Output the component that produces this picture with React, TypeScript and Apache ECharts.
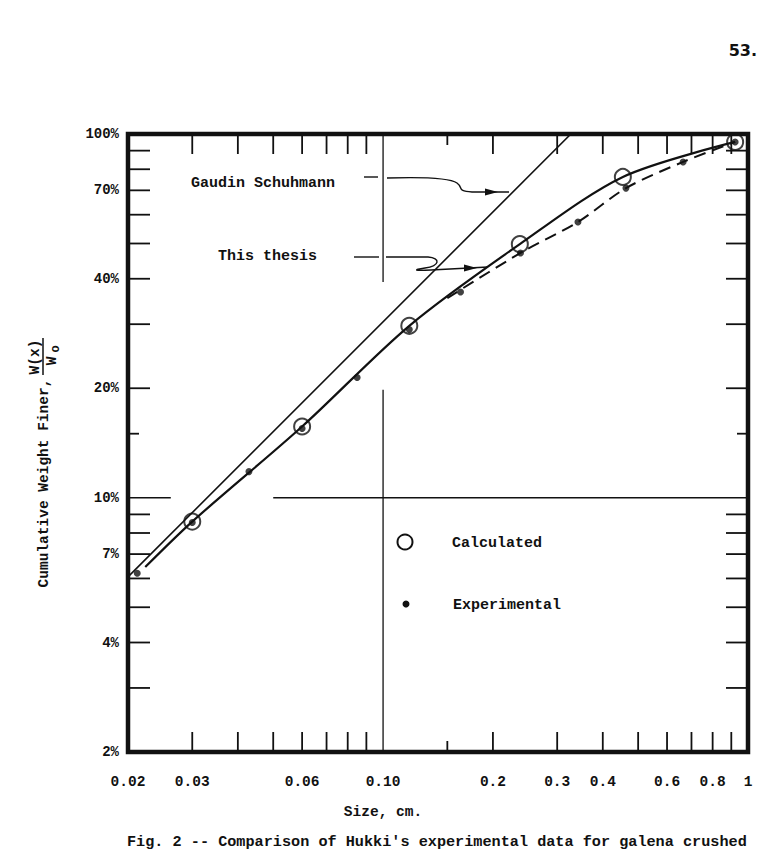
import React, { useEffect, useRef } from "react";
import * as echarts from "echarts";

// Axis extents (log-log paper)
const SIZE_MIN = 0.02;
const SIZE_MAX = 1;
const FINER_MIN = 2;
const FINER_MAX = 100;

// Tick marks and tick labels
const sizeTicks = [0.03, 0.04, 0.05, 0.06, 0.07, 0.08, 0.09, 0.2, 0.3, 0.4, 0.5, 0.6, 0.7, 0.8, 0.9];
const sizeShortTicks = [0.15];
const sizeLabels = ["0.02", "0.03", "0.06", "0.10", "0.2", "0.3", "0.4", "0.6", "0.8", "1"];
const finerTicks = [90, 80, 70, 60, 50, 40, 30, 20, 9, 8, 7, 6, 5, 4, 3];
const finerShortTicks = [15];
const finerLabels = ["100%", "70%", "40%", "20%", "10%", "7%", "4%", "2%"];

// Gaudin-Schuhmann straight line
const gaudinSize = [0.02, 0.327];
const gaudinFiner = [6.06, 100];

// "This thesis" fitted curve
const thesisSize = [0.0223, 0.03, 0.06, 0.118, 0.237, 0.454, 0.922];
const thesisFiner = [6.45, 8.6, 15.7, 29.7, 49.8, 76.2, 95.1];

// Calculated points
const calcSize = [0.03, 0.06, 0.118, 0.237, 0.454, 0.922];
const calcFiner = [8.6, 15.7, 29.7, 49.8, 76.2, 95.1];

// Experimental points (Hukki)
const expSize = [0.0212, 0.03, 0.0429, 0.06, 0.0849, 0.118, 0.163, 0.238, 0.342, 0.463, 0.664, 0.922];
const expFiner = [6.2, 8.55, 11.8, 15.5, 21.4, 29.0, 36.8, 47.1, 57.3, 71.0, 83.8, 95.1];

// Dashed experimental curve where it leaves the fitted curve
const expCurveSize = [0.15, 0.238, 0.342, 0.463, 0.664, 0.922];
const expCurveFiner = [35.4, 47.1, 57.3, 71.0, 83.8, 95.1];

// Broken reference lines at 0.10 cm and 10 %
const vRefUpperSize = [0.1, 0.1];
const vRefUpperFiner = [100, 39.2];
const vRefLowerSize = [0.1, 0.1];
const vRefLowerFiner = [19.8, 2];
const hRefLeftSize = [0.02, 0.0262];
const hRefRightSize = [0.05, 1];
const hRefFiner = [10, 10];

const FONT = '"Liberation Mono", "DejaVu Sans Mono", monospace';
const INK = "#111";

const pairs = (xs: number[], ys: number[]) => xs.map((x, i) => [x, ys[i]]);

const plainLine = (data: number[][], width: number, extra: any = {}) => ({
  type: "line",
  data,
  symbol: "none",
  silent: true,
  lineStyle: { color: INK, width, ...extra },
  z: 3,
});

echarts.graphic.registerShape(
  "gaudinLeader",
  echarts.graphic.extendPath("M387,178 C420,177 450,178 457,183 C464,188 456,191 472,192 L509,192", {})
);
echarts.graphic.registerShape(
  "thesisLeader",
  echarts.graphic.extendPath("M386,257 L428,257 C441,258 440,266 425,268 C412,270 414,271 431,270 L488,267", {})
);

export default function App() {
  const ref = useRef<HTMLDivElement>(null);

  useEffect(() => {
    document.body.style.margin = "0";
    if (!ref.current) return;
    const chart = echarts.init(ref.current, null, { renderer: "svg" });

    const tickStyle = { stroke: INK, lineWidth: 1.8 };

    const option: any = {
      animation: false,
      backgroundColor: "#fff",
      grid: {
        left: 128,
        right: 16,
        top: 134,
        bottom: 99,
        show: true,
        borderColor: INK,
        borderWidth: 4.5,
        backgroundColor: "transparent",
      },
      xAxis: {
        type: "log",
        logBase: 10,
        min: SIZE_MIN,
        max: SIZE_MAX,
        axisLine: { show: false },
        axisTick: { show: false },
        axisLabel: { show: false },
        splitLine: { show: false },
      },
      yAxis: {
        type: "log",
        logBase: 10,
        min: FINER_MIN,
        max: FINER_MAX,
        axisLine: { show: false },
        axisTick: { show: false },
        axisLabel: { show: false },
        splitLine: { show: false },
      },
      series: [
        // reference lines
        plainLine(pairs(vRefUpperSize, vRefUpperFiner), 1.3),
        plainLine(pairs(vRefLowerSize, vRefLowerFiner), 1.3),
        plainLine(pairs(hRefLeftSize, hRefFiner), 1.3),
        plainLine(pairs(hRefRightSize, hRefFiner), 1.3),
        // Gaudin-Schuhmann
        { ...plainLine(pairs(gaudinSize, gaudinFiner), 1.6), name: "Gaudin Schuhmann" },
        // This thesis
        {
          ...plainLine(pairs(thesisSize, thesisFiner), 2.2),
          name: "This thesis",
          smooth: 0.3,
        },
        // experimental dashed curve
        {
          ...plainLine(pairs(expCurveSize, expCurveFiner), 2, { type: [12, 7] }),
          name: "Experimental curve",
          smooth: 0.3,
        },
        {
          type: "scatter",
          name: "Calculated",
          data: pairs(calcSize, calcFiner),
          symbol: "circle",
          symbolSize: 16,
          itemStyle: { color: "rgba(0,0,0,0)", borderColor: INK, borderWidth: 2 },
          z: 5,
          silent: true,
        },
        {
          type: "scatter",
          name: "Experimental",
          data: pairs(expSize, expFiner),
          symbol: "circle",
          symbolSize: 7,
          itemStyle: { color: INK },
          z: 6,
          silent: true,
        },
        // size-axis ticks, bottom and top
        {
          type: "custom",
          silent: true,
          z: 4,
          data: [
            ...sizeTicks.map((v) => [v, FINER_MIN, 20]),
            ...sizeShortTicks.map((v) => [v, FINER_MIN, 11]),
          ],
          renderItem: (params: any, api: any) => {
            const v = api.value(0);
            const len = api.value(2);
            const b = api.coord([v, FINER_MIN]);
            const t = api.coord([v, FINER_MAX]);
            return {
              type: "group",
              children: [
                { type: "line", shape: { x1: b[0], y1: b[1], x2: b[0], y2: b[1] - len }, style: tickStyle },
                { type: "line", shape: { x1: t[0], y1: t[1], x2: t[0], y2: t[1] + len }, style: tickStyle },
              ],
            };
          },
        },
        // finer-axis ticks, left and right
        {
          type: "custom",
          silent: true,
          z: 4,
          data: [
            ...finerTicks.map((v) => [SIZE_MIN, v, 22]),
            ...finerShortTicks.map((v) => [SIZE_MIN, v, 11]),
          ],
          renderItem: (params: any, api: any) => {
            const v = api.value(1);
            const len = api.value(2);
            const l = api.coord([SIZE_MIN, v]);
            const r = api.coord([SIZE_MAX, v]);
            return {
              type: "group",
              children: [
                { type: "line", shape: { x1: l[0], y1: l[1], x2: l[0] + len, y2: l[1] }, style: tickStyle },
                { type: "line", shape: { x1: r[0], y1: r[1], x2: r[0] - len, y2: r[1] }, style: tickStyle },
              ],
            };
          },
        },
        // size-axis labels
        {
          type: "custom",
          silent: true,
          data: sizeLabels.map((s) => [parseFloat(s), FINER_MIN]),
          renderItem: (params: any, api: any) => {
            const p = api.coord([api.value(0), api.value(1)]);
            return {
              type: "text",
              x: p[0],
              y: p[1] + 30,
              style: {
                text: sizeLabels[params.dataIndex],
                fill: INK,
                font: `bold 14.5px ${FONT}`,
                align: "center",
                verticalAlign: "middle",
              },
            };
          },
        },
        // finer-axis labels
        {
          type: "custom",
          silent: true,
          data: finerLabels.map((s) => [SIZE_MIN, parseFloat(s)]),
          renderItem: (params: any, api: any) => {
            const p = api.coord([api.value(0), api.value(1)]);
            return {
              type: "text",
              x: p[0] - 9,
              y: p[1],
              style: {
                text: finerLabels[params.dataIndex],
                fill: INK,
                font: `bold 14px ${FONT}`,
                align: "right",
                verticalAlign: "middle",
              },
            };
          },
        },
      ],
      graphic: [
        // page number
        {
          type: "text",
          x: 757,
          y: 50,
          style: { text: "53.", fill: INK, font: 'bold 16px "DejaVu Sans", sans-serif', align: "right", verticalAlign: "middle" },
        },
        // curve annotations
        {
          type: "text",
          x: 191,
          y: 183,
          style: { text: "Gaudin Schuhmann", fill: INK, font: `bold 15px ${FONT}`, align: "left", verticalAlign: "middle" },
        },
        {
          type: "text",
          x: 218,
          y: 256,
          style: { text: "This thesis", fill: INK, font: `bold 15px ${FONT}`, align: "left", verticalAlign: "middle" },
        },
        { type: "line", shape: { x1: 364, y1: 177, x2: 378, y2: 177 }, style: { stroke: INK, lineWidth: 1.4 } },
        { type: "line", shape: { x1: 354, y1: 257, x2: 379, y2: 257 }, style: { stroke: INK, lineWidth: 1.4 } },
        { type: "gaudinLeader", x: 0, y: 0, style: { stroke: INK, fill: "none", lineWidth: 1.4 } },
        { type: "thesisLeader", x: 0, y: 0, style: { stroke: INK, fill: "none", lineWidth: 1.4 } },
        { type: "polygon", shape: { points: [[498, 192], [485, 188.5], [485, 195.5]] }, style: { fill: INK } },
        { type: "polygon", shape: { points: [[477, 268], [464, 264.5], [464, 271.5]] }, style: { fill: INK } },
        // key
        { type: "circle", shape: { cx: 405, cy: 542, r: 7.5 }, style: { stroke: INK, fill: "none", lineWidth: 2 } },
        {
          type: "text",
          x: 452,
          y: 543,
          style: { text: "Calculated", fill: INK, font: `bold 15px ${FONT}`, align: "left", verticalAlign: "middle" },
        },
        { type: "circle", shape: { cx: 406, cy: 604, r: 3.5 }, style: { fill: INK } },
        {
          type: "text",
          x: 453,
          y: 605,
          style: { text: "Experimental", fill: INK, font: `bold 15px ${FONT}`, align: "left", verticalAlign: "middle" },
        },
        // axis titles
        {
          type: "text",
          x: 383,
          y: 812,
          style: { text: "Size, cm.", fill: INK, font: `bold 14.5px ${FONT}`, align: "center", verticalAlign: "middle" },
        },
        {
          type: "group",
          x: 44,
          y: 483,
          rotation: Math.PI / 2,
          children: [
            {
              type: "text",
              x: 0,
              y: 0,
              style: { text: "Cumulative Weight Finer,", fill: INK, font: `bold 14.5px ${FONT}`, align: "center", verticalAlign: "middle" },
            },
            {
              type: "text",
              x: 126,
              y: -9,
              style: { text: "W(x)", fill: INK, font: `bold 14.5px ${FONT}`, align: "center", verticalAlign: "middle" },
            },
            { type: "line", shape: { x1: 108, y1: -1, x2: 145, y2: -1 }, style: { stroke: INK, lineWidth: 1.5 } },
            {
              type: "text",
              x: 122,
              y: 8,
              style: { text: "W", fill: INK, font: `bold 14.5px ${FONT}`, align: "center", verticalAlign: "middle" },
            },
            {
              type: "text",
              x: 134,
              y: 12,
              style: { text: "o", fill: INK, font: `bold 12px ${FONT}`, align: "center", verticalAlign: "middle" },
            },
          ],
        },
        // caption
        {
          type: "text",
          x: 127,
          y: 842,
          style: {
            text: "Fig. 2 -- Comparison of Hukki's experimental data for galena crushed",
            fill: INK,
            font: `bold 15.2px ${FONT}`,
            align: "left",
            verticalAlign: "middle",
          },
        },
      ],
    };

    chart.setOption(option);
    return () => chart.dispose();
  }, []);

  return (
    <div
      ref={ref}
      style={{ position: "absolute", left: 0, top: 0, width: 764, height: 851, background: "#fff" }}
    />
  );
}
